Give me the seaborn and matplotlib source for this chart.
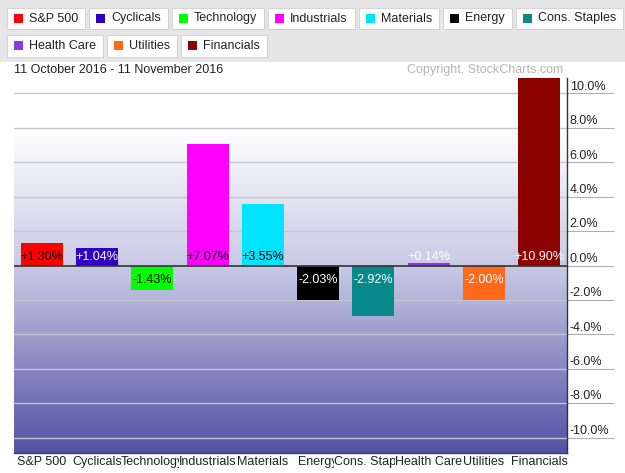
import numpy as np
import pandas as pd
import seaborn as sns
import matplotlib
matplotlib.use('Agg')
import matplotlib.pyplot as plt
from matplotlib import transforms
from matplotlib.colors import LinearSegmentedColormap
from matplotlib.patches import Rectangle

# data
sectors = ['S&P 500', 'Cyclicals', 'Technology', 'Industrials', 'Materials',
           'Energy', 'Cons. Staples', 'Health Care', 'Utilities', 'Financials']
changes = [1.30, 1.04, -1.43, 7.07, 3.55, -2.03, -2.92, 0.14, -2.00, 10.90]
colors = ['#ff0000', '#2e00c4', '#00ff00', '#ff00ff', '#00e5ff',
          '#000000', '#088a8a', '#8a3ae6', '#ff6a1a', '#8b0000']
label_colors = ['black', 'white', 'black', 'black', 'black',
                'white', 'white', 'white', 'white', 'white']
yticks = [-10, -8, -6, -4, -2, 0, 2, 4, 6, 8, 10]
date_range = '11 October 2016 - 11 November 2016'
copyright_txt = 'Copyright, StockCharts.com'

sns.set_theme(style='white')
plt.rcParams['font.family'] = ['Liberation Sans', 'DejaVu Sans']

W, H = 625, 473
fig = plt.figure(figsize=(W / 100, H / 100), dpi=100, facecolor='white')
ax = fig.add_axes([14 / W, 1 - 453 / H, 553 / W, (453 - 78) / H])

df = pd.DataFrame({'sector': sectors, 'change': changes})
sns.barplot(data=df, x='sector', y='change', hue='sector', palette=colors,
            width=0.76, saturation=1, legend=False, ax=ax)
for p in ax.patches:
    p.set_zorder(2)
    p.set_linewidth(0)

ymin, ymax = -10.9, 10.9

# background gradient: white at top, periwinkle at the bottom
cmap = LinearSegmentedColormap.from_list('bg', [
    (0.0, (0.32, 0.32, 0.65)),
    (0.5, (0.79, 0.79, 0.90)),
    ((8 - ymin) / (ymax - ymin), (1, 1, 1)),
    (1.0, (1, 1, 1))])
grad = np.linspace(ymin, ymax, 400).reshape(-1, 1)
ax.imshow(grad, origin='lower', extent=(-0.5, 9.5, ymin, ymax), cmap=cmap,
          vmin=ymin, vmax=ymax, aspect='auto', zorder=0, interpolation='bilinear')
ax.set_xlim(-0.5, 9.5)
ax.set_ylim(ymin, ymax)

ax.set_axisbelow(True)
ax.yaxis.grid(True, color='#c6c6cc', lw=1)
ax.xaxis.grid(False)
ax.axhline(0, color='#333333', lw=1.2, zorder=3)

for s in ['top', 'left']:
    ax.spines[s].set_visible(False)
ax.spines['right'].set_color('#333333')
ax.spines['right'].set_linewidth(1)
ax.spines['bottom'].set_color('#3c3c88')
ax.spines['bottom'].set_linewidth(1)

ax.set_xlabel('')
ax.set_ylabel('')

# y axis on the right, labels sitting on top of long tick lines
ax.yaxis.set_ticks_position('right')
ax.set_yticks(yticks)
ax.tick_params(axis='y', length=34, width=0.8, color='#b0b0b0',
               labelright=False, labelleft=False, direction='out')
for t, v in zip(ax.yaxis.get_major_ticks(), yticks):
    if v == 0:
        t.tick2line.set_color('#333333')
        t.tick2line.set_linewidth(1.2)
blend = transforms.blended_transform_factory(ax.transAxes, ax.transData)
ylab_tr = transforms.offset_copy(blend, fig=fig, y=0.5, units='points')
for v in yticks:
    ax.text(1.005, v, f'{v:.1f}%', transform=ylab_tr, ha='left', va='bottom',
            fontsize=9, color='#222222')

# category labels with white backing, later ones cover earlier ones
ax.set_xticks(range(len(sectors)))
ax.set_xticklabels(sectors, fontsize=9, color='#222222')
ax.tick_params(axis='x', length=0, pad=2)
for lbl in ax.get_xticklabels():
    lbl.set_bbox(dict(facecolor='white', edgecolor='none', pad=0))

# value labels at the zero line
for i, (v, c) in enumerate(zip(changes, label_colors)):
    if v >= 0:
        tr = transforms.offset_copy(ax.transData, fig=fig, y=1.8, units='points')
        ax.text(i, 0, f'{v:+.2f}%', transform=tr, ha='center', va='bottom',
                fontsize=9, color=c, zorder=4)
    else:
        tr = transforms.offset_copy(ax.transData, fig=fig, y=-6, units='points')
        ax.text(i, 0, f'{v:+.2f}%', transform=tr, ha='center', va='top',
                fontsize=9, color=c, zorder=4)

# header band with legend buttons
fig.add_artist(Rectangle((0, 1 - 62 / H), 1, 62 / H, transform=fig.transFigure,
                         facecolor='#e6e6e6', edgecolor='none', zorder=0))
renderer = fig.canvas.get_renderer()
rows = [(list(range(0, 7)), 8, 21), (list(range(7, 10)), 35, 22)]
for idx, top, h in rows:
    x = 7
    for i in idx:
        cy = top + h / 2
        t = fig.text((x + 22) / W, 1 - cy / H, sectors[i], fontsize=9,
                     color='#222222', va='center', ha='left', zorder=3)
        tw = t.get_window_extent(renderer).width
        bw = tw + 29
        fig.add_artist(Rectangle(((x + 1) / W, 1 - (top + h + 1) / H), bw / W, h / H,
                                 transform=fig.transFigure, facecolor='#a8a8a8',
                                 edgecolor='none', zorder=1))
        fig.add_artist(Rectangle((x / W, 1 - (top + h) / H), bw / W, h / H,
                                 transform=fig.transFigure, facecolor='white',
                                 edgecolor='#d0d0d0', lw=0.6, zorder=2))
        fig.add_artist(Rectangle(((x + 7) / W, 1 - (cy + 4.5) / H), 9 / W, 9 / H,
                                 transform=fig.transFigure, facecolor=colors[i],
                                 edgecolor='none', zorder=3))
        x += bw + 4

fig.text(14 / W, 1 - 70 / H, date_range, fontsize=9, color='#222222', va='center')
fig.text(563 / W, 1 - 70 / H, copyright_txt, fontsize=9, color='#b4b4b4',
         va='center', ha='right')

fig.savefig('out.png', dpi=100)
